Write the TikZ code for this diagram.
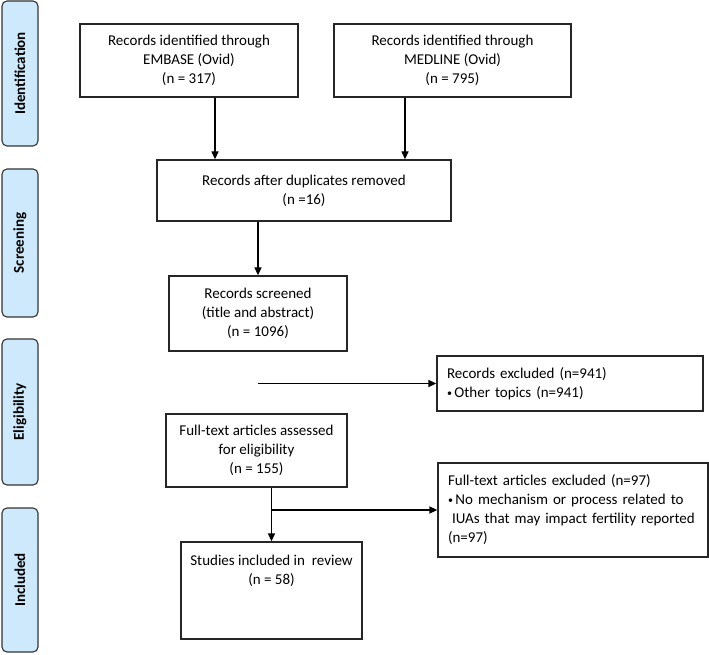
\documentclass[tikz,border=0pt]{standalone}
\usepackage{fontspec}
\setmainfont{Carlito}
\usetikzlibrary{arrows.meta}
\definecolor{phaseblue}{RGB}{205,233,251}
\newcommand{\smallbullet}{\raisebox{1pt}{\fontsize{10}{10}\selectfont\textbullet}\hspace{2.5pt}}
\tikzset{
  recbox/.style={draw=black!85, line width=1.3pt, fill=white, align=center, inner sep=0pt,
    font=\fontsize{15}{19}\selectfont},
  sidebox/.style={recbox, align=left, inner xsep=10pt, text width=#1},
  phasebar/.style={draw=black!80, line width=1.1pt, fill=phaseblue, rounded corners=5pt,
    rotate=90, minimum height=36pt, inner sep=0pt, font=\fontsize{15}{17}\selectfont\bfseries},
  flowarrow/.style={line width=1.3pt, -{Triangle[length=8pt,width=7pt]}},
}
\begin{document}
\begin{tikzpicture}[x=1pt,y=-1pt]
		\useasboundingbox (0,0) rectangle (709,655);
		%phases
		\node[phasebar, minimum width=145pt] (ident) at (20,73.5) {Identification};
		\node[phasebar, minimum width=148pt] (screen) at (20,243) {Screening};
		\node[phasebar, minimum width=146pt] (elig) at (20,412) {Eligibility};
		\node[phasebar, minimum width=144pt] (incl) at (20,580) {Included};
		%sources
		\node[recbox, minimum width=218pt, minimum height=73pt] (embase) at (189,60.5) {Records identified through\\EMBASE (Ovid)\\(n = 317)};
		\node[recbox, minimum width=237pt, minimum height=73pt] (medline) at (452.5,60.5) {Records identified through\\MEDLINE (Ovid)\\(n = 795)};
		%screening
		\node[recbox, minimum width=294pt, minimum height=61pt] (dup) at (304,190.5) {Records after duplicates removed\\(n =16)};
		\node[recbox, minimum width=178pt, minimum height=75pt] (screened) at (258,313.5) {Records screened\\(title and abstract)\\(n = 1096)};
		%eligibility
		\node[sidebox=246pt, minimum height=55pt] (excl) at (570,383.5) {Records excluded (n=941)\\\smallbullet Other topics (n=941)};
		\node[recbox, minimum width=181pt, minimum height=73pt] (fulltext) at (256.5,450.5) {Full-text articles assessed\\for eligibility\\(n = 155)};
		\node[sidebox=250pt, minimum height=94pt] (ftexcl) at (573,510) {Full-text articles excluded (n=97)\\\smallbullet No mechanism or process related to\\\hspace*{4pt}IUAs that may impact fertility reported\\(n=97)};
		%included
		\node[recbox, minimum width=181pt, minimum height=97pt] (studies) at (271.5,590.5) {};
		\node[anchor=north, align=center, inner sep=0pt, font=\fontsize{15}{19}\selectfont] (studiestext) at ([yshift=-14pt]studies.north) {Studies included in\ \ review\\(n = 58)};
		%arrows
		\draw[flowarrow] ([xshift=26pt]embase.south) -- ([xshift=26pt]embase.south |- dup.north);
		\draw[flowarrow] ([xshift=-47.5pt]medline.south) -- ([xshift=-47.5pt]medline.south |- dup.north);
		\draw[flowarrow] (screened.north |- dup.south) -- (screened.north);
		\coordinate (gap) at (screened.south |- excl.west);
		\draw[flowarrow] (gap) -- (excl.west);
		\draw[flowarrow] (studies.north |- fulltext.south) -- (studies.north);
		\coordinate (branch) at (studies.north |- ftexcl.west);
		\draw[flowarrow] (branch) -- (ftexcl.west);
	\end{tikzpicture}
\end{document}
